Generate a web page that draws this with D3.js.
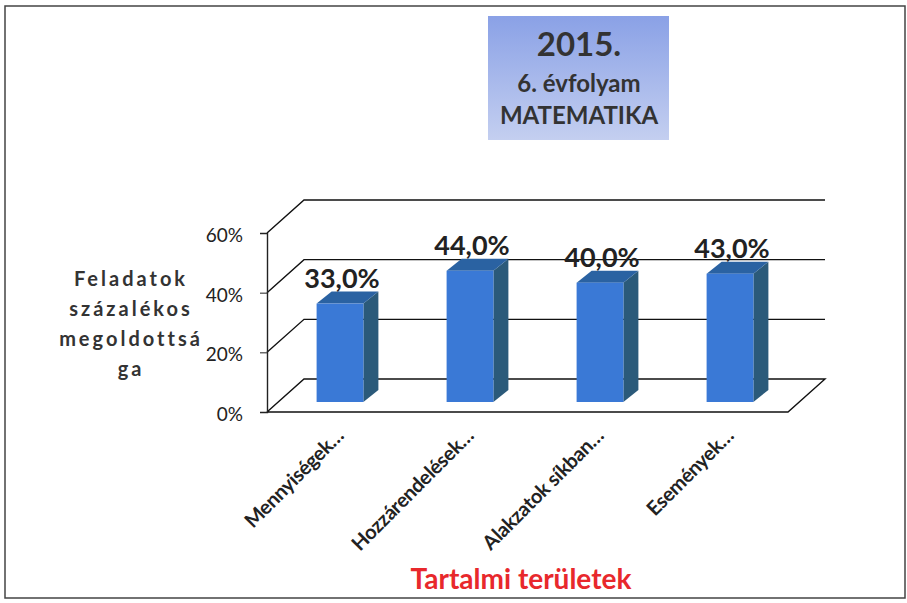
<!DOCTYPE html>
<html>
<head>
<meta charset="utf-8">
<script src="https://cdn.jsdelivr.net/npm/d3@7"></script>
<style>
  body { margin: 0; background: #fff; }
  svg { display: block; font-family: Lato, "Open Sans", sans-serif; }
</style>
</head>
<body>
<section></section>
<script>
// datos del gráfico
var categorias = ["Mennyiségek…", "Hozzárendelések…", "Alakzatok síkban…", "Események…"]
var valores = [33.0, 44.0, 40.0, 43.0]
var ticksY = [0, 20, 40, 60]
var tituloLineas = ["2015.", "6. évfolyam", "MATEMATIKA"]
var tituloY = ["Feladatok", "százalékos", "megoldottsá", "ga"]
var tituloX = "Tartalmi területek"

var width = 907
var height = 603

// profundidad de la pared del fondo y de las barras
var fondo = { dx: 37, dy: -33 }
var prof = { dx: 15, dy: -12 }

var svg = d3.select("section")
    .append("svg")
    .attr("width", width)
    .attr("height", height)

// marco exterior
svg.append("path")
    .attr("d", "M5,598 L5,6 L905,6 L905,598 Z")
    .attr("fill", "none")
    .attr("stroke", "#444")
    .attr("stroke-width", 1.5)

var escalaY = d3.scaleLinear()
    .domain([0, 60])
    .range([412, 233])

var escalaX = d3.scaleBand()
    .domain(categorias)
    .range([265, 785])
    .paddingInner(0.64)
    .paddingOuter(0.32)

// rejilla del fondo
var linea = d3.line()
ticksY.forEach(function (t) {
    var y = escalaY(t)
    var pts = [[267, y], [267 + fondo.dx, y + fondo.dy], [825, y + fondo.dy]]
    if (t === 0) pts.push([788, y], [267, y])
    svg.append("path")
        .attr("d", linea(pts))
        .attr("fill", "none")
        .attr("stroke", "#111")
        .attr("stroke-width", 1.4)
})

// eje Y
var ejeY = d3.axisLeft(escalaY)
    .tickValues(ticksY)
    .tickSize(7)
    .tickFormat(function (d) { return d + "%" })

var gY = svg.append("g")
    .attr("transform", "translate(267,0)")
    .call(ejeY)
gY.select(".domain").attr("stroke", "#222").attr("stroke-width", 1.4)
gY.selectAll(".tick line").attr("stroke", "#222")
gY.selectAll(".tick text")
    .attr("x", -24)
    .attr("dy", "0.45em")
    .style("font-family", "Lato, sans-serif")
    .style("font-size", "19px")
    .attr("fill", "#222")

// barras en 3D
var base = -10
var g = svg.append("g")
var barras = g.selectAll(".barra")
    .data(valores)
    .enter()
    .append("g")

barras.each(function (v, i) {
    var x0 = escalaX(categorias[i]) + 10
    var w = escalaX.bandwidth()
    var y0 = escalaY(0) + base
    var y1 = escalaY(v) + base
    var s = d3.select(this)
    // lado
    s.append("path")
        .attr("d", linea([[x0 + w, y0], [x0 + w + prof.dx, y0 + prof.dy], [x0 + w + prof.dx, y1 + prof.dy], [x0 + w, y1]]) + "Z")
        .attr("fill", "#2b5a7a")
    // techo
    s.append("path")
        .attr("d", linea([[x0, y1], [x0 + prof.dx, y1 + prof.dy], [x0 + w + prof.dx, y1 + prof.dy], [x0 + w, y1]]) + "Z")
        .attr("fill", "#2a62a2")
    // frente
    s.append("rect")
        .attr("x", x0)
        .attr("y", y1)
        .attr("width", w)
        .attr("height", y0 - y1)
        .attr("fill", "#3a79d6")
    // etiqueta
    s.append("text")
        .attr("x", x0 + w / 2 + 2)
        .attr("y", y1 + prof.dy - 4)
        .attr("text-anchor", "middle")
        .style("font-size", "27px")
        .style("font-weight", "bold")
        .attr("fill", "#222")
        .text(d3.format(".1f")(v).replace(".", ",") + "%")
})

// etiquetas del eje X
var ejeX = d3.axisBottom(escalaX).tickSize(0)
var gX = svg.append("g")
    .attr("transform", "translate(0,412)")
    .call(ejeX)
gX.select(".domain").remove()
gX.selectAll(".tick text")
    .attr("text-anchor", "end")
    .attr("x", 0)
    .attr("y", 0)
    .attr("dy", 0)
    .attr("transform", "translate(15,25) rotate(-45)")
    .style("font-family", "Lato, sans-serif")
    .style("font-size", "20px")
    .style("font-weight", "bold")
    .style("letter-spacing", "-0.3px")
    .attr("fill", "#222")

// título del eje X
svg.append("text")
    .attr("x", 521)
    .attr("y", 589)
    .attr("text-anchor", "middle")
    .style("font-size", "28px")
    .style("font-weight", "bold")
    .attr("fill", "#e8282c")
    .text(tituloX)

// título del eje Y
svg.append("text")
    .attr("text-anchor", "middle")
    .style("font-size", "20px")
    .style("font-weight", "bold")
    .style("letter-spacing", "3px")
    .attr("fill", "#333")
    .selectAll("tspan")
    .data(tituloY)
    .enter()
    .append("tspan")
    .attr("x", 131)
    .attr("y", function (d, i) { return 286 + i * 30 })
    .text(function (d) { return d })

// caja del título
var grad = svg.append("defs").append("linearGradient")
    .attr("id", "grad")
    .attr("x1", 0).attr("y1", 0).attr("x2", 0).attr("y2", 1)
grad.append("stop").attr("offset", "0%").attr("stop-color", "#8aa1e6")
grad.append("stop").attr("offset", "100%").attr("stop-color", "#c4cff0")

svg.append("rect")
    .attr("x", 488)
    .attr("y", 16)
    .attr("width", 181)
    .attr("height", 124)
    .attr("fill", "url(#grad)")

svg.append("g")
    .selectAll("text")
    .data(tituloLineas)
    .enter()
    .append("text")
    .attr("x", 579)
    .attr("y", function (d, i) { return [56, 92, 124][i] })
    .attr("text-anchor", "middle")
    .style("font-size", function (d, i) { return i === 0 ? "33px" : "24px" })
    .style("font-weight", "bold")
    .attr("fill", "#333")
    .text(function (d) { return d })
</script>
</body>
</html>
